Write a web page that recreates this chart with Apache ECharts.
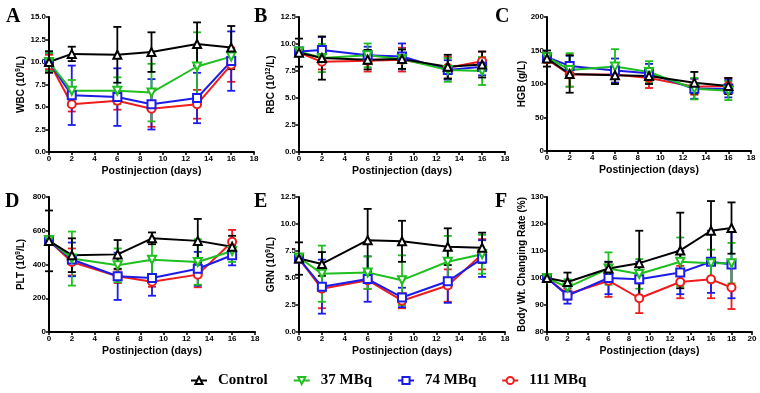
<!DOCTYPE html>
<html>
<head>
<meta charset="utf-8">
<script src="https://cdn.jsdelivr.net/npm/echarts@6/dist/echarts.min.js"></script>
<style>
  html, body { margin: 0; padding: 0; background: #fff; }
  #chart { width: 760px; height: 393px; }
</style>
</head>
<body>
<div id="chart"></div>
<script>
// groups: Control, 37 MBq, 74 MBq, 111 MBq
const groupNames = ['Control', '37 MBq', '74 MBq', '111 MBq'];
const days = [0, 2, 6, 9, 13, 16];
const daysWt = [0, 2, 6, 9, 13, 16, 18];

// A: WBC
const wbcMean = [
  [10.0, 10.9, 10.8, 11.1, 12.0, 11.6],
  [10.0, 6.8, 6.8, 6.6, 9.5, 10.6],
  [10.0, 6.3, 6.1, 5.3, 6.0, 10.1],
  [10.0, 5.3, 5.7, 4.8, 5.3, 9.7]
];
const wbcSd = [
  [1.2, 0.8, 3.1, 2.2, 2.4, 2.4],
  [1.0, 1.2, 1.5, 3.2, 3.8, 0.8],
  [1.0, 3.3, 3.2, 2.8, 2.8, 3.3],
  [0.8, 0.8, 1.0, 2.0, 1.6, 1.9]
];
// B: RBC
const rbcMean = [
  [9.2, 8.7, 8.55, 8.6, 7.9, 8.1],
  [9.3, 8.7, 8.95, 8.6, 7.6, 7.5],
  [9.3, 9.45, 8.95, 8.85, 7.6, 7.9],
  [9.2, 8.35, 8.45, 8.55, 7.8, 8.4]
];
const rbcSd = [
  [1.3, 2.0, 0.9, 0.9, 1.1, 1.2],
  [0.3, 1.3, 1.1, 0.9, 1.1, 1.3],
  [0.3, 1.2, 0.8, 1.2, 0.9, 0.8],
  [0.3, 0.7, 1.0, 1.1, 1.0, 0.9]
];
// C: HGB
const hgbMean = [
  [138, 115, 113, 112, 102, 97],
  [140, 121, 126, 118, 93, 90],
  [140, 127, 120, 116, 93, 93],
  [137, 114, 114, 109, 96, 97]
];
const hgbSd = [
  [12, 28, 13, 12, 16, 12],
  [5, 25, 26, 16, 16, 14],
  [5, 15, 18, 14, 15, 13],
  [5, 18, 12, 15, 12, 12]
];
// D: PLT
const pltMean = [
  [540, 455, 460, 555, 540, 505],
  [545, 435, 395, 428, 415, 480],
  [540, 430, 330, 320, 375, 455],
  [540, 415, 330, 298, 340, 535]
];
const pltSd = [
  [180, 100, 85, 35, 130, 65],
  [15, 160, 100, 105, 135, 65],
  [15, 100, 140, 105, 100, 60],
  [15, 80, 40, 30, 75, 70]
];
// E: GRN
const grnMean = [
  [6.8, 6.3, 8.5, 8.4, 7.9, 7.8],
  [6.9, 5.4, 5.5, 4.8, 6.5, 7.2],
  [6.8, 4.2, 4.9, 3.2, 4.7, 6.8],
  [6.8, 4.0, 4.8, 2.9, 4.3, 7.2]
];
const grnSd = [
  [1.5, 1.1, 2.9, 1.9, 1.7, 1.4],
  [0.3, 2.6, 1.5, 2.3, 2.4, 1.8],
  [0.3, 2.5, 2.1, 0.9, 2.0, 1.7],
  [0.3, 1.8, 0.8, 0.7, 1.5, 1.4]
];
// F: body weight changing rate
const wtMean = [
  [100, 98.5, 103.5, 105.5, 110.2, 117.5, 118.5],
  [100, 96.5, 103.5, 101.5, 106, 105.5, 105.5],
  [100, 93.5, 100, 99.5, 102, 106, 105],
  [100, 94, 99, 92.5, 98.5, 99.5, 96.5]
];
const wtSd = [
  [0, 3.5, 2.5, 12, 14, 11, 9.5],
  [0, 3, 6, 5.5, 9, 5, 7.5],
  [0, 3, 6, 6.5, 8, 11.5, 12.5],
  [0, 2, 6, 5.5, 6, 7, 8]
];

const colors = ['#000000', '#1fbf1f', '#1c1ce8', '#ee1c1c'];
const symbols = ['emptyTriangle', 'emptyTriangle', 'emptyRect', 'emptyCircle'];
const rotates = [0, 180, 0, 0];

const panels = [
  { letter: 'A', mean: wbcMean, sd: wbcSd, x: days, yName: 'WBC (10{s|9}/L)', min: 0, max: 15, step: 2.5, dec: 1, xMax: 18,
    grid: { left: 49, top: 17, width: 205, height: 135 }, lx: 6, ly: 7 },
  { letter: 'B', mean: rbcMean, sd: rbcSd, x: days, yName: 'RBC (10{s|12}/L)', min: 0, max: 12.5, step: 2.5, dec: 1, xMax: 18,
    grid: { left: 299, top: 17, width: 206, height: 135 }, lx: 254, ly: 7 },
  { letter: 'C', mean: hgbMean, sd: hgbSd, x: days, yName: 'HGB (g/L)', min: 0, max: 200, step: 50, dec: 0, xMax: 18,
    grid: { left: 547, top: 17, width: 204, height: 134 }, lx: 495, ly: 7 },
  { letter: 'D', mean: pltMean, sd: pltSd, x: days, yName: 'PLT (10{s|9}/L)', min: 0, max: 800, step: 200, dec: 0, xMax: 18,
    grid: { left: 49, top: 197, width: 206, height: 135 }, lx: 5, ly: 192 },
  { letter: 'E', mean: grnMean, sd: grnSd, x: days, yName: 'GRN (10{s|9}/L)', min: 0, max: 12.5, step: 2.5, dec: 1, xMax: 18,
    grid: { left: 299, top: 197, width: 206, height: 135 }, lx: 254, ly: 192 },
  { letter: 'F', mean: wtMean, sd: wtSd, x: daysWt, yName: 'Body Wt. Changing Rate (%)', min: 80, max: 130, step: 10, dec: 0, xMax: 20,
    grid: { left: 547, top: 197, width: 205, height: 135 }, lx: 495, ly: 192 }
];

const axisFont = 'Liberation Sans';

// 误差线
function renderErr(params, api) {
  const lo = api.coord([api.value(0), api.value(1)]);
  const hi = api.coord([api.value(0), api.value(2)]);
  const c = api.visual('color');
  const w = 4;
  const st = { stroke: c, lineWidth: 1.8 };
  return {
    type: 'group',
    children: [
      { type: 'line', shape: { x1: lo[0], y1: lo[1], x2: hi[0], y2: hi[1] }, style: st },
      { type: 'line', shape: { x1: hi[0] - w, y1: hi[1], x2: hi[0] + w, y2: hi[1] }, style: st },
      { type: 'line', shape: { x1: lo[0] - w, y1: lo[1], x2: lo[0] + w, y2: lo[1] }, style: st }
    ]
  };
}

var grids = [], xAxes = [], yAxes = [], series = [], graphics = [];

panels.forEach(function (p, i) {
  grids.push(p.grid);
  xAxes.push({
    gridIndex: i, type: 'value', min: 0, max: p.xMax, interval: 2,
    name: 'Postinjection (days)', nameLocation: 'middle', nameGap: 14,
    nameTextStyle: { fontFamily: axisFont, fontWeight: 'bold', fontSize: 10.5, color: '#000' },
    axisLine: { lineStyle: { color: '#000', width: 2 } },
    axisTick: { length: 3, lineStyle: { color: '#000', width: 1.5 } },
    axisLabel: { fontFamily: axisFont, fontWeight: 'bold', fontSize: 8, color: '#000', margin: 3 },
    splitLine: { show: false }
  });
  yAxes.push({
    gridIndex: i, type: 'value', min: p.min, max: p.max, interval: p.step,
    name: p.yName, nameLocation: 'middle', nameGap: i % 3 === 2 ? 20 : 22,
    nameTextStyle: {
      fontFamily: axisFont, fontWeight: 'bold', fontSize: 10, color: '#000',
      rich: { s: { fontFamily: axisFont, fontWeight: 'bold', fontSize: 6.5, color: '#000', verticalAlign: 'top', padding: [0, 0, 5, 0] } }
    },
    axisLine: { show: true, lineStyle: { color: '#000', width: 2 } },
    axisTick: { show: true, length: 3, lineStyle: { color: '#000', width: 1.5 } },
    axisLabel: {
      fontFamily: axisFont, fontWeight: 'bold', fontSize: 8, color: '#000', margin: 3,
      formatter: function (v) { return v.toFixed(p.dec); }
    },
    splitLine: { show: false }
  });

  [3, 2, 1, 0].forEach(function (g) {
    series.push({
      type: 'custom', name: groupNames[g] + ' SD', xAxisIndex: i, yAxisIndex: i,
      renderItem: renderErr, silent: true,
      itemStyle: { color: colors[g] },
      encode: { x: 0, y: [1, 2] },
      data: p.x.map(function (d, k) { return [d, p.mean[g][k] - p.sd[g][k], p.mean[g][k] + p.sd[g][k]]; })
    });
    series.push({
      type: 'line', name: groupNames[g], xAxisIndex: i, yAxisIndex: i,
      symbol: symbols[g], symbolRotate: rotates[g], symbolSize: 8,
      lineStyle: { color: colors[g], width: 2 },
      itemStyle: { color: colors[g], borderWidth: 1.8 },
      data: p.x.map(function (d, k) { return [d, p.mean[g][k]]; })
    });
  });

  graphics.push({
    type: 'text', left: p.lx, top: p.ly,
    style: { text: p.letter, font: 'bold 20px "Liberation Serif"', fill: '#000' }
  });
});

var chart = echarts.init(document.getElementById('chart'));
chart.setOption({
  animation: false,
  backgroundColor: '#fff',
  grid: grids,
  xAxis: xAxes,
  yAxis: yAxes,
  graphic: graphics,
  legend: {
    data: groupNames,
    left: 185, top: 368,
    itemWidth: 16, itemHeight: 9, itemGap: 25,
    textStyle: { fontFamily: 'Liberation Serif', fontWeight: 'bold', fontSize: 15, color: '#000', padding: [0, 0, 0, 6] }
  },
  series: series
});
</script>
</body>
</html>
